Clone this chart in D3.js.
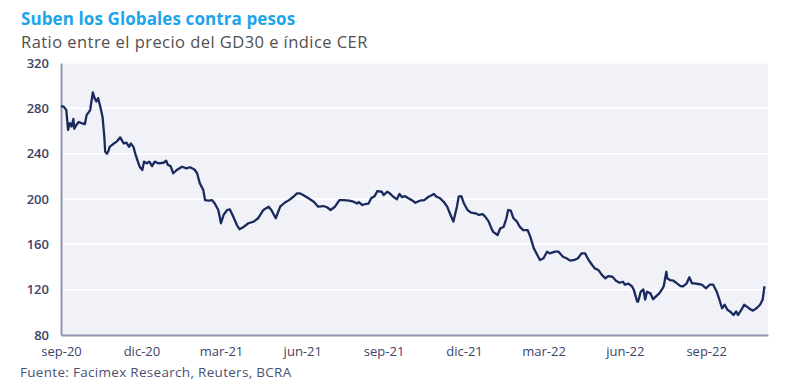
<!DOCTYPE html>
<html>
<head>
<meta charset="utf-8">
<script src="https://cdn.jsdelivr.net/npm/d3@7"></script>
<style>
  body { margin: 0; background: #fff; }
  svg { display: block; font-family: "Open Sans", "Noto Sans", sans-serif; }
</style>
</head>
<body>
<svg id="chart" width="800" height="391"></svg>
<script>
const dates = [
  "2020-09-01","2020-09-04","2020-09-07","2020-09-09","2020-09-11","2020-09-13","2020-09-15","2020-09-16",
  "2020-09-19","2020-09-21","2020-09-24","2020-09-28","2020-09-30","2020-10-04","2020-10-07","2020-10-09",
  "2020-10-11","2020-10-13","2020-10-15","2020-10-18","2020-10-20","2020-10-21","2020-10-23","2020-10-25",
  "2020-10-26","2020-10-30","2020-11-03","2020-11-07","2020-11-11","2020-11-14","2020-11-17","2020-11-19",
  "2020-11-22","2020-11-24","2020-11-27","2020-11-29","2020-12-02","2020-12-04","2020-12-07","2020-12-10",
  "2020-12-13","2020-12-16","2020-12-20","2020-12-26","2020-12-29","2020-12-31","2021-01-03","2021-01-06",
  "2021-01-10","2021-01-16","2021-01-21","2021-01-25","2021-01-30","2021-02-02","2021-02-05","2021-02-09",
  "2021-02-11","2021-02-15","2021-02-19","2021-02-22","2021-02-26","2021-03-01","2021-03-04","2021-03-08",
  "2021-03-11","2021-03-15","2021-03-19","2021-03-22","2021-03-26","2021-04-01","2021-04-07","2021-04-12",
  "2021-04-18","2021-04-24","2021-04-27","2021-05-02","2021-05-07","2021-05-12","2021-05-17","2021-05-22",
  "2021-05-26","2021-05-29","2021-06-02","2021-06-08","2021-06-14","2021-06-19","2021-06-25","2021-06-29",
  "2021-07-03","2021-07-08","2021-07-13","2021-07-18","2021-07-24","2021-07-29","2021-08-02","2021-08-04",
  "2021-08-08","2021-08-12","2021-08-15","2021-08-18","2021-08-22","2021-08-25","2021-08-30","2021-09-01",
  "2021-09-05","2021-09-08","2021-09-12","2021-09-16","2021-09-19","2021-09-22","2021-09-25","2021-09-29",
  "2021-10-03","2021-10-07","2021-10-12","2021-10-17","2021-10-22","2021-10-26","2021-10-28","2021-10-31",
  "2021-11-04","2021-11-08","2021-11-12","2021-11-15","2021-11-19","2021-11-23","2021-11-25","2021-11-28",
  "2021-12-01","2021-12-05","2021-12-09","2021-12-14","2021-12-18","2021-12-22","2021-12-25","2021-12-29",
  "2022-01-01","2022-01-03","2022-01-08","2022-01-11","2022-01-15","2022-01-18","2022-01-20","2022-01-23",
  "2022-01-26","2022-01-30","2022-02-02","2022-02-06","2022-02-11","2022-02-14","2022-02-18","2022-02-21",
  "2022-02-25","2022-03-01","2022-03-05","2022-03-08","2022-03-14","2022-03-18","2022-03-23","2022-03-27",
  "2022-03-31","2022-04-05","2022-04-09","2022-04-13","2022-04-17","2022-04-21","2022-04-25","2022-04-28",
  "2022-05-02","2022-05-06","2022-05-10","2022-05-13","2022-05-18","2022-05-22","2022-05-26","2022-05-30",
  "2022-06-01","2022-06-05","2022-06-09","2022-06-11","2022-06-15","2022-06-16","2022-06-19","2022-06-22",
  "2022-06-24","2022-06-26","2022-06-30","2022-07-03","2022-07-06","2022-07-10","2022-07-13","2022-07-15",
  "2022-07-18","2022-07-19","2022-07-22","2022-07-26","2022-07-30","2022-08-03","2022-08-06","2022-08-10",
  "2022-08-13","2022-08-16","2022-08-19","2022-08-23","2022-08-27","2022-09-01","2022-09-05","2022-09-09",
  "2022-09-13","2022-09-16","2022-09-19","2022-09-22","2022-09-25","2022-09-28","2022-10-02","2022-10-05",
  "2022-10-07","2022-10-11","2022-10-14","2022-10-17","2022-10-21","2022-10-24","2022-10-28","2022-11-01",
  "2022-11-04","2022-11-06"
];

const ratio = [
  282, 281.5, 278.5, 261, 267, 264, 270.6, 262,
  266, 268, 267, 266, 274, 278.5, 294, 289,
  286, 289, 283, 272.6, 255, 241.7, 240, 243,
  246, 248.5, 250.6, 254.4, 249, 249.7, 246, 249,
  246, 240, 233, 228.5, 225.6, 233, 231.5, 233,
  229, 233, 231.5, 232, 233.8, 230, 229, 222.7,
  225.6, 228.5, 227, 228, 226, 222.7, 214, 208,
  199, 198.5, 199, 196, 190.3, 178.6, 186, 190.3,
  190.9, 184.4, 177, 173.3, 175, 178.6, 180, 183,
  190.3, 193.2, 190.3, 183, 193.2, 196.7, 199, 202,
  205, 205, 203.5, 200.6, 197.6, 193.2, 193.8, 192.7,
  190.3, 193.2, 199, 199, 198.5, 197.6, 196, 197.3,
  194.7, 195.6, 196, 200.6, 202.6, 207, 206.4, 203.5,
  206.4, 205, 202, 199.7, 204.4, 201.5, 202.6, 200.6,
  199, 196.7, 198.5, 199, 202, 203.5, 204.4, 202,
  200.6, 197.6, 193.2, 187.4, 180, 193.2, 202, 202.6,
  196, 190.3, 188, 187.4, 185.9, 186.7, 184.4, 180,
  174.1, 171, 168.2, 174, 175.6, 183, 190.3, 189.7,
  183, 180, 175.6, 172.6, 172.6, 166.8, 156.5, 152,
  146.2, 147.7, 153.5, 152, 153.5, 153.5, 149, 147.7,
  145.6, 146.2, 147.7, 152, 152, 146.2, 141.8, 138.8,
  137.4, 133, 130, 132, 131.4, 127.9, 126.1, 127,
  124.4, 125.3, 123, 120.2, 109.4, 109.4, 118.2, 120.2,
  111.3, 118.2, 116.7, 111.5, 113.8, 116.7, 120.3, 123,
  135.8, 130, 128.5, 127.9, 125.6, 123.2, 123, 125.6,
  131, 125.6, 125.6, 125, 124.4, 121.2, 124.4, 124.4,
  118.2, 111.3, 103.6, 106.7, 102.3, 100.8, 97.6, 100.8,
  97.6, 102.3, 106.7, 105, 102.7, 101.5, 103.6, 106.7,
  111.3, 123
];

const yTicks = [80, 120, 160, 200, 240, 280, 320];
const xTickDates = ["2020-09-01","2020-12-01","2021-03-01","2021-06-01","2021-09-01",
                    "2021-12-01","2022-03-01","2022-06-01","2022-09-01"];
const monthNames = ["ene","feb","mar","abr","may","jun","jul","ago","sep","oct","nov","dic"];

const titleText = "Suben los Globales contra pesos";
const subtitleText = "Ratio entre el precio del GD30 e índice CER";
const sourceText = "Fuente: Facimex Research, Reuters, BCRA";

const parseDate = d3.timeParse("%Y-%m-%d");
const series = dates.map((d, i) => ({ date: parseDate(d), value: ratio[i] }));

const svg = d3.select("#chart");
const margin = { left: 61, right: 32, top: 62, bottom: 56 };
const width = 800, height = 391;

const x = d3.scaleTime()
  .domain([parseDate("2020-09-01"), parseDate("2022-11-10")])
  .range([margin.left, width - margin.right]);

const y = d3.scaleLinear()
  .domain([80, 320])
  .range([height - margin.bottom, margin.top + 1]);

const axisColor = "#3d4468";

// title and subtitle
svg.append("text")
  .attr("x", 21).attr("y", 25)
  .attr("fill", "#1ea4ea")
  .attr("font-size", 17)
  .attr("font-weight", 700)
  .attr("letter-spacing", 0.1)
  .text(titleText);

svg.append("text")
  .attr("x", 21).attr("y", 48)
  .attr("fill", "#505050")
  .attr("font-size", 16.5)
  .attr("letter-spacing", 0.45)
  .text(subtitleText);

// plot background
svg.append("rect")
  .attr("x", margin.left)
  .attr("y", margin.top)
  .attr("width", width - margin.right - margin.left)
  .attr("height", height - margin.bottom - margin.top)
  .attr("fill", "#f0f2f8");

// gridlines
svg.append("g")
  .selectAll("line")
  .data(yTicks.slice(1))
  .join("line")
  .attr("x1", margin.left)
  .attr("x2", width - margin.right)
  .attr("y1", d => y(d))
  .attr("y2", d => y(d))
  .attr("stroke", "#ffffff")
  .attr("stroke-width", 1.5);

// y axis
const yAxis = svg.append("g")
  .attr("transform", `translate(${margin.left},0)`)
  .call(d3.axisLeft(y).tickValues(yTicks).tickSize(0).tickPadding(12));
yAxis.select(".domain").attr("stroke", "#8f95ad").attr("stroke-width", 2);
yAxis.selectAll("text")
  .attr("fill", axisColor)
  .attr("font-size", 13)
  .attr("font-weight", 600)
  .attr("font-family", "Open Sans, sans-serif");

// x axis
const fmt = d => monthNames[d.getMonth()] + "-" + String(d.getFullYear()).slice(2);
const xAxis = svg.append("g")
  .attr("transform", `translate(0,${height - margin.bottom})`)
  .call(d3.axisBottom(x).tickValues(xTickDates.map(parseDate)).tickFormat(fmt).tickSize(0).tickPadding(12));
xAxis.select(".domain").attr("stroke", "#8f95ad").attr("stroke-width", 2);
xAxis.selectAll("text")
  .attr("fill", axisColor)
  .attr("font-size", 13)
  .attr("font-weight", 500)
  .attr("font-family", "Open Sans, sans-serif");

// the series
const line = d3.line()
  .x(d => x(d.date))
  .y(d => y(d.value));

svg.append("path")
  .datum(series)
  .attr("d", line)
  .attr("fill", "none")
  .attr("stroke", "#1b2a5c")
  .attr("stroke-width", 2.3)
  .attr("stroke-linejoin", "round");

// source
svg.append("text")
  .attr("x", 20).attr("y", 377)
  .attr("fill", "#4a5172")
  .attr("font-size", 13.5)
  .attr("letter-spacing", 0.3)
  .text(sourceText);
</script>
</body>
</html>
